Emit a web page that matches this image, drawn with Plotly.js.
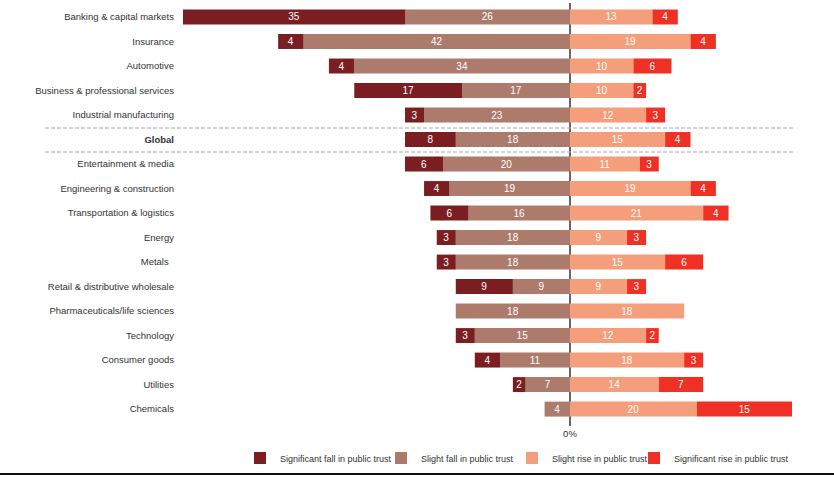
<!DOCTYPE html>
<html>
<head>
<meta charset="utf-8">
<script src="https://cdn.plot.ly/plotly-3.0.1.min.js"></script>
<style>html,body{margin:0;padding:0;background:#fff;}#chart{width:834px;height:477px;}</style>
</head>
<body>
<div id="chart"></div>
<script>
const categories = ["Banking & capital markets","Insurance","Automotive","Business & professional services","Industrial manufacturing","Global","Entertainment & media","Engineering & construction","Transportation & logistics","Energy","Metals","Retail & distributive wholesale","Pharmaceuticals/life sciences","Technology","Consumer goods","Utilities","Chemicals"];
const tickLabels = ["Banking & capital markets","Insurance","Automotive","Business & professional services","Industrial manufacturing","<b>Global</b>","Entertainment & media","Engineering & construction","Transportation & logistics","Energy","Metals  ","Retail & distributive wholesale","Pharmaceuticals/life sciences","Technology","Consumer goods","Utilities","Chemicals"];
const significantFall = [35,4,4,17,3,8,6,4,6,3,3,9,0,3,4,2,0];
const slightFall      = [26,42,34,17,23,18,20,19,16,18,18,9,18,15,11,7,4];
const slightRise      = [13,19,10,10,12,15,11,19,21,9,15,9,18,12,18,14,20];
const significantRise = [4,4,6,2,3,4,3,4,4,3,6,3,0,2,3,7,15];
const seriesNames = ["Significant fall in public trust","Slight fall in public trust","Slight rise in public trust","Significant rise in public trust"];
const colors = ["#7a1e22","#ad7b6b","#f59e7b","#ee3124"];

const FONT = "Liberation Sans, Arial, Helvetica, sans-serif";
const lbl = a => a.map(v => v > 0 ? String(v) : "");
const legendIds = ["legend","legend2","legend3","legend4"];
function mk(vals, idx, neg){
  return {
    type: "bar", orientation: "h",
    y: categories, x: vals.map(v => neg ? -v : v),
    name: seriesNames[idx], legend: legendIds[idx],
    marker: {color: colors[idx], line: {width: 0}},
    text: lbl(vals), textposition: "inside", insidetextanchor: "middle",
    textangle: 0, textfont: {color: "#ffffff", size: 10, family: FONT},
    hoverinfo: "skip", cliponaxis: false
  };
}
const data = [
  mk(slightFall, 1, true),
  mk(significantFall, 0, true),
  mk(slightRise, 2, false),
  mk(significantRise, 3, false)
];

const L = 183, R = 42, T = 3, B = 51;
const pw = 834 - L - R, ph = 477 - T - B;
const px = x => (x - L) / pw;
const py = y => (477 - B - y) / ph;

// text left positions of each legend entry (container px)
const legendTextX = [280, 421, 552, 674];
function leg(i){
  return {orientation: "h", xref: "container", yref: "container",
          x: (legendTextX[i] - 40) / 834, xanchor: "left",
          y: 1 - 458 / 477, yanchor: "middle",
          font: {size: 9, color: "#333", family: FONT}, itemwidth: 30,
          bgcolor: "rgba(0,0,0,0)", borderwidth: 0};
}

const layout = {
  width: 834, height: 477,
  margin: {l: L, r: R, t: T, b: B, pad: 0},
  paper_bgcolor: "#ffffff", plot_bgcolor: "#ffffff",
  font: {family: FONT, size: 9.5, color: "#333333"},
  barmode: "relative", bargap: 0.39,
  uniformtext: {minsize: 10, mode: "show"},
  xaxis: {range: [-61, 35], tickvals: [0], ticktext: ["0%"], showgrid: false,
          zeroline: true, zerolinecolor: "#666666", zerolinewidth: 1.5,
          showline: false, ticks: "", fixedrange: true, tickfont: {size: 9.5, color: "#333"}},
  yaxis: {type: "category", categoryorder: "array", categoryarray: categories,
          range: [16.69, -0.571], tickvals: categories, ticktext: tickLabels,
          showgrid: false, zeroline: false, showline: false, ticks: "",
          ticklabelstandoff: 8, tickfont: {size: 9.5, color: "#333"}},
  showlegend: true,
  legend: leg(0), legend2: leg(1), legend3: leg(2), legend4: leg(3),
  shapes: [
    {type: "line", xref: "paper", yref: "paper", x0: px(45), x1: px(793), y0: py(128), y1: py(128),
     line: {color: "#aaaaaa", width: 1, dash: "4px,2px"}},
    {type: "line", xref: "paper", yref: "paper", x0: px(45), x1: px(793), y0: py(152), y1: py(152),
     line: {color: "#aaaaaa", width: 1, dash: "4px,2px"}},
    {type: "line", xref: "paper", yref: "paper", x0: px(0), x1: px(834), y0: py(474), y1: py(474),
     line: {color: "#111111", width: 2}}
  ]
};
Plotly.newPlot("chart", data, layout, {displayModeBar: false, staticPlot: true});
</script>
</body>
</html>
